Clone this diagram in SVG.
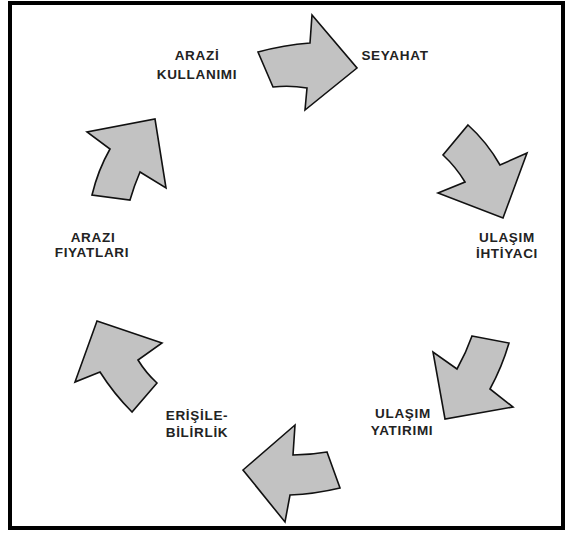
<svg xmlns="http://www.w3.org/2000/svg" width="573" height="537" viewBox="0 0 573 537">
  <style>
    .frame { fill: #ffffff; stroke: #000000; stroke-width: 4; }
    .arrow { fill: #c2c2c2; stroke: #111111; stroke-width: 1.6; stroke-linejoin: miter; }
    .lbl { font-family: "Liberation Sans", Arial, sans-serif; font-size: 13.5px; font-weight: bold; fill: #222222; text-anchor: middle; letter-spacing: 0.7px; }
  </style>

  <rect class="frame" x="10" y="3" width="553" height="525"/>

  <!-- cycle arrows -->
  <g id="connectors">
    <path class="arrow" d="M258,52 Q284,45 310,43 L312,15 L357,68 L305,110 L307,88 Q290,85 273,87 Z"/>
    <path class="arrow" d="M468,125 Q487,142 500,165 L527,153 L503,218 L438,193 L465,182 Q456,167 443,155 Z"/>
    <path class="arrow" d="M472,336 L509,343 Q502,367 490,389 L513,407 L445,419 L433,352 L457,369 Q466,353 472,336 Z"/>
    <path class="arrow" d="M327,452 L340,488 Q315,494 290,495 L285,522 L243,470 L295,425 L293,455 Q310,455 327,452 Z"/>
    <path class="arrow" d="M157,383 L132,412 Q114,394 100,372 L75,382 L97,321 L162,343 L138,360 Q146,373 157,383 Z"/>
    <path class="arrow" d="M92,195 Q98,170 110,149 L87,132 L155,119 L166,188 L140,172 Q134,186 130,200 Z"/>
  </g>

  <g id="arazi-kullanimi">
    <text class="lbl" x="197" y="60">ARAZİ</text>
    <text class="lbl" x="197" y="79">KULLANIMI</text>
  </g>
  <g id="seyahat">
    <text class="lbl" x="395" y="60">SEYAHAT</text>
  </g>
  <g id="ulasim-ihtiyaci">
    <text class="lbl" x="507" y="242">ULAŞIM</text>
    <text class="lbl" x="507" y="258">İHTİYACI</text>
  </g>
  <g id="ulasim-yatirimi">
    <text class="lbl" x="403" y="418">ULAŞIM</text>
    <text class="lbl" x="402" y="435">YATIRIMI</text>
  </g>
  <g id="erisilebilirlik">
    <text class="lbl" x="197" y="420">ERİŞİLE-</text>
    <text class="lbl" x="197" y="437">BİLİRLİK</text>
  </g>
  <g id="arazi-fiyatlari">
    <text class="lbl" x="93" y="242">ARAZI</text>
    <text class="lbl" x="92" y="257">FIYATLARI</text>
  </g>
</svg>
